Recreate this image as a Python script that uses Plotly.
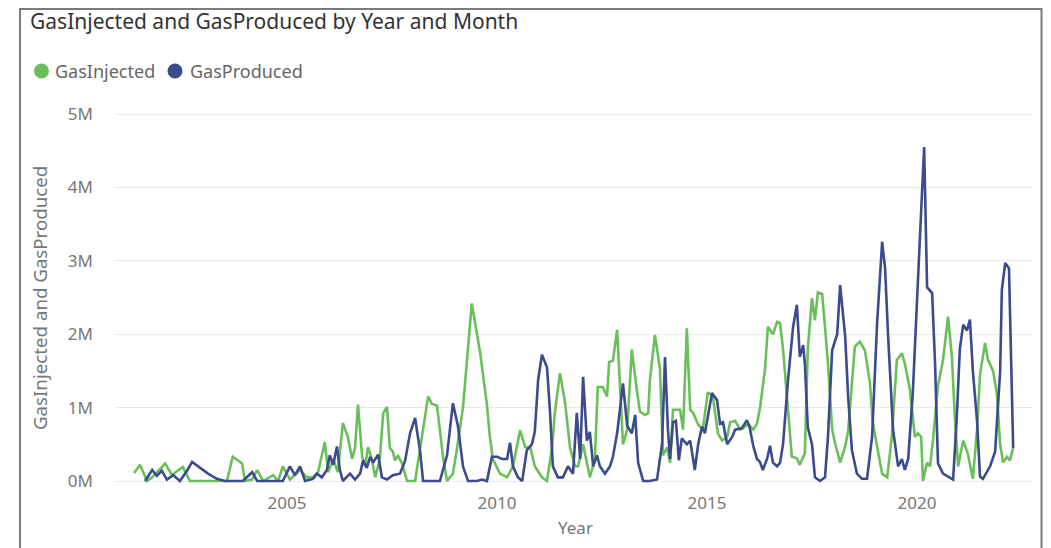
import plotly.graph_objects as go

# ---- data (values in millions) ----
injected_year = [2001.36, 2001.50, 2001.67, 2001.79, 2002.10, 2002.26, 2002.52, 2002.69, 2003.57, 2003.71,
                 2003.93, 2004.00, 2004.17, 2004.29, 2004.43, 2004.67, 2004.79, 2004.90, 2005.07, 2005.31,
                 2005.48, 2005.62, 2005.74, 2005.90, 2005.98, 2006.10, 2006.21, 2006.33, 2006.45, 2006.55,
                 2006.62, 2006.69, 2006.79, 2006.86, 2006.93, 2007.02, 2007.10, 2007.21, 2007.29, 2007.38,
                 2007.45, 2007.52, 2007.57, 2007.64, 2007.74, 2007.86, 2008.05, 2008.24, 2008.36, 2008.45,
                 2008.57, 2008.64, 2008.71, 2008.81, 2008.95, 2009.05, 2009.19, 2009.40, 2009.60, 2009.76,
                 2009.83, 2009.90, 2010.07, 2010.24, 2010.38, 2010.55, 2010.67, 2010.79, 2010.90, 2011.07,
                 2011.19, 2011.31, 2011.38, 2011.50, 2011.62, 2011.74, 2011.86, 2011.93, 2012.05, 2012.14,
                 2012.21, 2012.33, 2012.40, 2012.52, 2012.62, 2012.67, 2012.76, 2012.86, 2012.93, 2013.00,
                 2013.10, 2013.21, 2013.33, 2013.40, 2013.52, 2013.60, 2013.64, 2013.76, 2013.88, 2013.95,
                 2014.05, 2014.12, 2014.19, 2014.36, 2014.43, 2014.52, 2014.60, 2014.67, 2014.79, 2014.90,
                 2015.02, 2015.14, 2015.26, 2015.36, 2015.48, 2015.55, 2015.67, 2015.79, 2015.86, 2015.98,
                 2016.10, 2016.19, 2016.26, 2016.38, 2016.45, 2016.57, 2016.67, 2016.74, 2016.81, 2016.93,
                 2017.02, 2017.14, 2017.21, 2017.33, 2017.40, 2017.50, 2017.57, 2017.64, 2017.74, 2017.81,
                 2017.88, 2017.98, 2018.05, 2018.17, 2018.29, 2018.36, 2018.52, 2018.64, 2018.76, 2018.88,
                 2018.95, 2019.05, 2019.17, 2019.29, 2019.40, 2019.52, 2019.64, 2019.71, 2019.83, 2019.95,
                 2020.02, 2020.10, 2020.14, 2020.24, 2020.31, 2020.38, 2020.50, 2020.62, 2020.74, 2020.83,
                 2020.90, 2020.98, 2021.10, 2021.21, 2021.33, 2021.43, 2021.50, 2021.62, 2021.69, 2021.81,
                 2021.90, 2021.98, 2022.05, 2022.14, 2022.21, 2022.29]
injected_m = [0.11, 0.22, 0.0, 0.05, 0.24, 0.08, 0.19, 0.0, 0.0, 0.33,
              0.24, 0.0, 0.02, 0.15, 0.0, 0.08, 0.0, 0.2, 0.02, 0.15,
              0.05, 0.05, 0.12, 0.53, 0.12, 0.3, 0.12, 0.79, 0.6, 0.3,
              0.45, 1.04, 0.33, 0.2, 0.46, 0.3, 0.05, 0.3, 0.92, 1.01,
              0.45, 0.4, 0.28, 0.35, 0.24, 0.0, 0.0, 0.74, 1.15, 1.05,
              1.03, 0.7, 0.35, 0.0, 0.1, 0.45, 1.0, 2.42, 1.74, 1.04,
              0.6, 0.3, 0.1, 0.05, 0.2, 0.69, 0.46, 0.46, 0.2, 0.05,
              0.0, 0.45, 0.95, 1.47, 1.07, 0.45, 0.2, 0.2, 0.5, 0.25,
              0.05, 0.3, 1.28, 1.28, 1.15, 1.62, 1.64, 2.06, 1.2, 0.5,
              0.7, 1.79, 1.24, 0.95, 0.9, 0.92, 1.37, 1.99, 1.53, 0.35,
              0.46, 0.25, 0.97, 0.97, 0.7, 2.08, 0.97, 0.93, 0.77, 0.7,
              1.21, 1.15, 0.65, 0.55, 0.6, 0.8, 0.82, 0.7, 0.72, 0.78,
              0.7, 0.78, 0.99, 1.51, 2.1, 2.0, 2.17, 2.15, 1.8, 1.0,
              0.33, 0.31, 0.22, 0.38, 1.8, 2.49, 2.19, 2.57, 2.55, 2.1,
              1.6, 0.7, 0.51, 0.25, 0.47, 0.68, 1.83, 1.9, 1.78, 1.33,
              0.79, 0.47, 0.1, 0.05, 0.6, 1.65, 1.74, 1.6, 1.25, 0.6,
              0.65, 0.6, 0.0, 0.25, 0.2, 0.55, 1.3, 1.65, 2.24, 1.7,
              0.88, 0.2, 0.55, 0.37, 0.03, 0.7, 1.45, 1.88, 1.65, 1.5,
              1.2, 0.5, 0.25, 0.33, 0.28, 0.45]

produced_year = [2001.62, 2001.79, 2001.90, 2002.02, 2002.14, 2002.29, 2002.45, 2002.62, 2002.74, 2002.93,
                 2003.12, 2003.33, 2003.52, 2003.95, 2004.17, 2004.29, 2004.90, 2005.07, 2005.19, 2005.31,
                 2005.43, 2005.62, 2005.71, 2005.83, 2005.95, 2006.02, 2006.10, 2006.19, 2006.26, 2006.33,
                 2006.50, 2006.62, 2006.74, 2006.81, 2006.90, 2006.98, 2007.05, 2007.17, 2007.26, 2007.38,
                 2007.52, 2007.69, 2007.81, 2007.93, 2008.05, 2008.17, 2008.24, 2008.40, 2008.64, 2008.81,
                 2008.95, 2009.07, 2009.19, 2009.31, 2009.52, 2009.64, 2009.76, 2009.88, 2010.00, 2010.12,
                 2010.24, 2010.31, 2010.38, 2010.50, 2010.60, 2010.71, 2010.83, 2010.90, 2010.98, 2011.07,
                 2011.19, 2011.26, 2011.33, 2011.45, 2011.57, 2011.69, 2011.81, 2011.90, 2011.98, 2012.05,
                 2012.14, 2012.21, 2012.29, 2012.38, 2012.45, 2012.57, 2012.69, 2012.76, 2012.86, 2013.00,
                 2013.10, 2013.21, 2013.29, 2013.36, 2013.48, 2013.64, 2013.81, 2013.93, 2014.00, 2014.07,
                 2014.12, 2014.19, 2014.26, 2014.33, 2014.40, 2014.52, 2014.60, 2014.71, 2014.79, 2014.88,
                 2014.95, 2015.12, 2015.24, 2015.31, 2015.38, 2015.48, 2015.60, 2015.67, 2015.83, 2015.95,
                 2016.02, 2016.10, 2016.19, 2016.26, 2016.33, 2016.43, 2016.50, 2016.57, 2016.67, 2016.74,
                 2016.81, 2016.93, 2017.05, 2017.14, 2017.21, 2017.29, 2017.33, 2017.40, 2017.50, 2017.57,
                 2017.69, 2017.81, 2017.88, 2017.98, 2018.10, 2018.17, 2018.29, 2018.36, 2018.45, 2018.57,
                 2018.69, 2018.81, 2018.93, 2019.05, 2019.17, 2019.24, 2019.31, 2019.43, 2019.55, 2019.64,
                 2019.71, 2019.79, 2019.90, 2020.02, 2020.12, 2020.17, 2020.24, 2020.36, 2020.43, 2020.50,
                 2020.62, 2020.74, 2020.86, 2020.95, 2021.02, 2021.10, 2021.19, 2021.26, 2021.33, 2021.43,
                 2021.50, 2021.57, 2021.74, 2021.86, 2021.98, 2022.02, 2022.10, 2022.19, 2022.29]
produced_m = [0.0, 0.15, 0.07, 0.14, 0.02, 0.08, 0.0, 0.14, 0.26, 0.18,
              0.1, 0.03, 0.0, 0.0, 0.12, 0.0, 0.0, 0.2, 0.08, 0.2,
              0.0, 0.03, 0.1, 0.05, 0.15, 0.35, 0.22, 0.47, 0.15, 0.0,
              0.1, 0.02, 0.1, 0.28, 0.18, 0.33, 0.25, 0.36, 0.05, 0.02,
              0.08, 0.1, 0.27, 0.65, 0.86, 0.4, 0.0, 0.0, 0.0, 0.35,
              1.06, 0.75, 0.2, 0.0, 0.0, 0.02, 0.0, 0.33, 0.33, 0.3,
              0.3, 0.52, 0.2, 0.05, 0.0, 0.42, 0.5, 0.67, 1.38, 1.72,
              1.55, 0.96, 0.2, 0.05, 0.05, 0.2, 0.1, 0.93, 0.3, 1.42,
              0.55, 0.67, 0.2, 0.35, 0.2, 0.1, 0.2, 0.33, 0.65, 1.33,
              0.75, 0.65, 0.9, 0.25, 0.0, 0.0, 0.02, 0.5, 1.69, 0.7,
              0.3, 0.8, 0.82, 0.28, 0.58, 0.5, 0.55, 0.15, 0.5, 0.74,
              0.65, 1.2, 1.1, 0.78, 0.8, 0.5, 0.6, 0.7, 0.72, 0.83,
              0.72, 0.48, 0.3, 0.26, 0.15, 0.3, 0.48, 0.25, 0.2, 0.25,
              0.5, 1.38, 2.1, 2.4, 1.69, 1.85, 1.6, 0.73, 0.5, 0.05,
              0.0, 0.05, 0.6, 1.78, 2.0, 2.67, 1.97, 1.15, 0.42, 0.1,
              0.03, 0.03, 0.6, 2.15, 3.26, 2.9, 2.0, 0.7, 0.2, 0.3,
              0.15, 0.3, 1.2, 2.7, 3.87, 4.55, 2.64, 2.56, 1.6, 0.24,
              0.1, 0.06, 0.02, 0.9, 1.8, 2.13, 2.05, 2.2, 1.5, 0.82,
              0.06, 0.03, 0.2, 0.4, 1.5, 2.6, 2.97, 2.9, 0.45]

series_names = ["GasInjected", "GasProduced"]
x_ticks = [2005, 2010, 2015, 2020]
x_tick_labels = ["2005", "2010", "2015", "2020"]
y_ticks_m = [0, 1, 2, 3, 4, 5]
y_tick_labels = ["0M", "1M", "2M", "3M", "4M", "5M"]

GREEN = "#6ABF5B"
BLUE = "#3B4B8C"
FONT = "Noto Sans"

# figure is placed by the page 8px from the window's corner
W, H = 1043, 540
L, R, T, B = 107, 19, 99, 60
x_range = [2000.905, 2022.738]
y_range = [-0.0954e6, 5.0954e6]

pw = W - L - R
ph = H - T - B


def px_x(p):
    return (p - L) / pw


def px_y(p):
    return (H - B - p) / ph


fig = go.Figure()
fig.add_trace(go.Scatter(x=injected_year, y=[v * 1e6 for v in injected_m], mode="lines",
                         line=dict(color=GREEN, width=2.6), name=series_names[0]))
fig.add_trace(go.Scatter(x=produced_year, y=[v * 1e6 for v in produced_m], mode="lines",
                         line=dict(color=BLUE, width=2.6), name=series_names[1]))

# legend drawn as round markers + text, positioned like the reference
legend_items = [(series_names[0], GREEN, 33.5, 45), (series_names[1], BLUE, 167, 180)]
shapes = []
annotations = []
rad = 7.5
ly = 63
for nm, col, cx, tx in legend_items:
    shapes.append(dict(type="circle", xref="paper", yref="paper",
                       x0=px_x(cx - rad), x1=px_x(cx + rad), y0=px_y(ly + rad), y1=px_y(ly - rad),
                       fillcolor=col, line=dict(width=0)))
    annotations.append(dict(text=nm, xref="paper", yref="paper", x=px_x(tx), y=px_y(ly),
                            xanchor="left", yanchor="middle", showarrow=False,
                            font=dict(family=FONT, size=18, color="#666666")))

annotations.append(dict(text="GasInjected and GasProduced", xref="paper", yref="paper",
                        x=px_x(31), y=px_y(290), textangle=-90, showarrow=False,
                        xanchor="center", yanchor="middle",
                        font=dict(family=FONT, size=18.7, color="#777777")))
annotations.append(dict(text="Year", xref="paper", yref="paper",
                        x=px_x(567), y=px_y(519), showarrow=False,
                        xanchor="center", yanchor="middle",
                        font=dict(family=FONT, size=17, color="#777777")))
shapes.append(dict(type="rect", xref="paper", yref="paper",
                   x0=px_x(12), x1=px_x(1033.5), y0=px_y(600), y1=px_y(1),
                   line=dict(color="#7A7A7A", width=2), fillcolor="rgba(0,0,0,0)", layer="above"))

fig.update_layout(
    width=W, height=H,
    margin=dict(l=L, r=R, t=T, b=B),
    paper_bgcolor="white", plot_bgcolor="white",
    showlegend=False,
    font=dict(family=FONT, color="#777777", size=17),
    title=dict(text="GasInjected and GasProduced by Year and Month",
               xref="container", yref="container", x=22 / W, y=1 - 14 / H,
               xanchor="left", yanchor="middle",
               font=dict(family=FONT, size=21, color="#333333")),
    xaxis=dict(range=x_range, tickvals=x_ticks, ticktext=x_tick_labels,
               showgrid=False, zeroline=False, showline=False, ticks="",
               tickfont=dict(size=17, color="#777777"), ticklabelstandoff=3),
    yaxis=dict(range=y_range, tickvals=[v * 1e6 for v in y_ticks_m], ticktext=y_tick_labels,
               showgrid=True, gridcolor="#EAEAEA", gridwidth=1, zeroline=False, showline=False,
               ticks="", tickfont=dict(size=17, color="#777777"), ticklabelstandoff=21),
    annotations=annotations,
    shapes=shapes,
)

fig.write_html("out.html")
